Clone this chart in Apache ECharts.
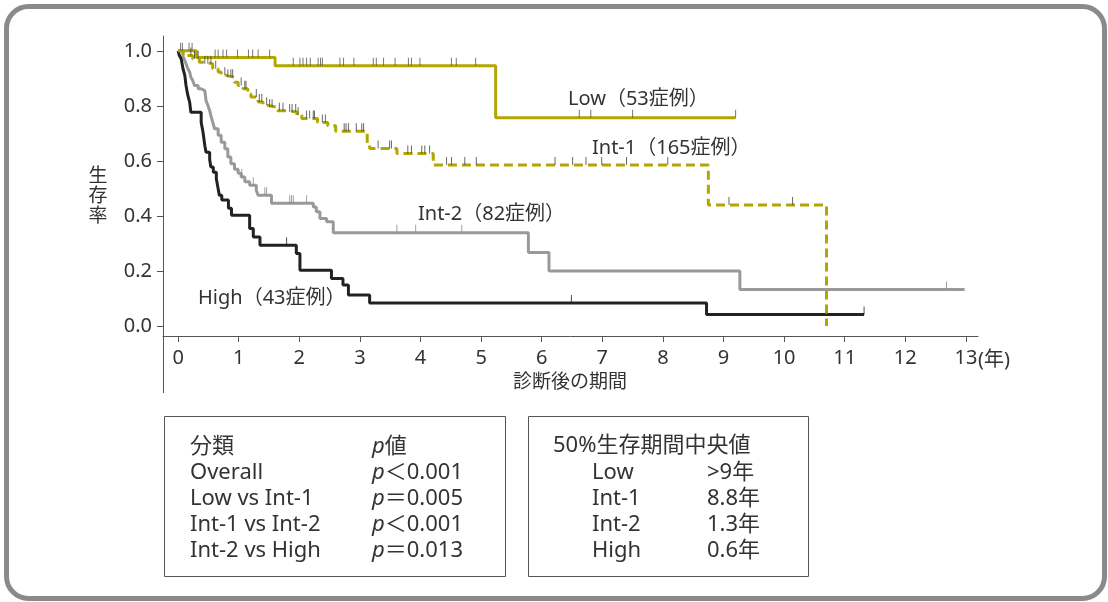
<!DOCTYPE html>
<html>
<head>
<meta charset="utf-8">
<script src="https://cdn.jsdelivr.net/npm/echarts@6/dist/echarts.min.js"></script>
<style>
html, body { margin: 0; padding: 0; background: #fff; }
#container { width: 1108px; height: 602px; }
</style>
</head>
<body>
<div id="container"></div>
<script>
var FONT = '"Noto Sans", "Noto Sans CJK JP", sans-serif';
var OLIVE = '#b2a600';

// Kaplan-Meier steps: [years, survival after the step]
var lowSteps = [[0, 1.0], [0.30, 0.976], [1.60, 0.946], [5.24, 0.757], [9.20, 0.757]];
var lowCensor = [0.04, 0.07, 0.18, 0.23, 0.61, 0.66, 0.74, 0.80, 0.98, 1.16, 1.23, 1.32, 1.51,
    1.90, 2.01, 2.06, 2.12, 2.18, 2.31, 2.35, 2.38, 2.67, 2.73, 2.90, 3.22, 3.27, 3.39, 3.58,
    3.80, 3.85, 3.99, 4.51, 4.59, 4.91, 6.62, 6.81, 7.50, 9.20];

var int1Steps = [[0, 1.0], [0.08, 0.983], [0.24, 0.971], [0.35, 0.959], [0.41, 0.953], [0.57, 0.935],
    [0.66, 0.923], [0.71, 0.911], [0.79, 0.904], [0.93, 0.886], [0.99, 0.874], [1.07, 0.862],
    [1.15, 0.844], [1.20, 0.832], [1.32, 0.814], [1.40, 0.802], [1.48, 0.795], [1.64, 0.782],
    [1.79, 0.778], [1.96, 0.766], [2.04, 0.754], [2.30, 0.740], [2.47, 0.728], [2.60, 0.708],
    [3.12, 0.665], [3.16, 0.645], [3.61, 0.627], [4.21, 0.585], [8.75, 0.440], [10.70, 0.0]];
var int1Censor = [0.21, 0.27, 0.33, 0.44, 0.49, 0.54, 0.62, 0.77, 0.82, 0.87, 0.90, 1.04, 1.10, 1.12,
    1.29, 1.34, 1.38, 1.46, 1.51, 1.55, 1.67, 1.73, 1.84, 1.88, 1.94, 1.98, 2.12, 2.17, 2.23, 2.25,
    2.38, 2.43, 2.74, 2.77, 2.81, 2.94, 3.03, 3.06, 3.30, 3.49, 3.52, 3.79, 3.85, 4.02, 4.07, 4.15,
    4.43, 4.51, 4.73, 4.92, 6.22, 6.51, 6.73, 6.99, 7.40, 8.08, 9.09, 10.14];

var int2Steps = [[0, 1.0], [0.08, 0.98], [0.11, 0.965], [0.13, 0.953], [0.16, 0.935], [0.19, 0.923],
    [0.21, 0.904], [0.24, 0.892], [0.27, 0.874], [0.33, 0.862], [0.38, 0.856], [0.44, 0.850],
    [0.46, 0.820], [0.49, 0.802], [0.52, 0.783], [0.54, 0.765], [0.57, 0.741], [0.60, 0.717],
    [0.66, 0.693], [0.71, 0.668], [0.77, 0.644], [0.82, 0.614], [0.87, 0.590], [0.93, 0.570],
    [0.99, 0.555], [1.04, 0.542], [1.10, 0.524], [1.18, 0.512], [1.29, 0.493], [1.32, 0.475],
    [1.54, 0.446], [2.23, 0.433], [2.28, 0.415], [2.34, 0.391], [2.45, 0.379], [2.56, 0.339],
    [5.78, 0.267], [6.12, 0.200], [9.27, 0.133], [12.98, 0.133]];
var int2Censor = [1.05, 1.24, 1.43, 1.46, 1.84, 1.87, 1.90, 2.12, 3.61, 3.92, 4.68, 12.68];

var highSteps = [[0, 1.0], [0.02, 0.983], [0.05, 0.971], [0.08, 0.935], [0.11, 0.911], [0.13, 0.874],
    [0.16, 0.838], [0.19, 0.814], [0.21, 0.777], [0.38, 0.741], [0.41, 0.705], [0.44, 0.656],
    [0.46, 0.632], [0.52, 0.605], [0.54, 0.578], [0.58, 0.559], [0.63, 0.535], [0.66, 0.499],
    [0.68, 0.475], [0.72, 0.458], [0.83, 0.428], [0.88, 0.403], [1.18, 0.355], [1.24, 0.324],
    [1.35, 0.294], [1.95, 0.264], [2.01, 0.203], [2.53, 0.173], [2.72, 0.149], [2.81, 0.113],
    [3.16, 0.084], [8.72, 0.042], [11.32, 0.042]];
var highCensor = [1.79, 6.49, 11.32];

var xTicks = [0, 1, 2, 3, 4, 5, 6, 7, 8, 9, 10, 11, 12, 13];
var yTicks = [0, 0.2, 0.4, 0.6, 0.8, 1.0];

var pHeader = ['分類', '{it|p}値'];
var pGroups = ['Overall', 'Low vs Int-1', 'Int-1 vs Int-2', 'Int-2 vs High'];
var pValues = ['{it|p}＜0.001', '{it|p}＝0.005', '{it|p}＜0.001', '{it|p}＝0.013'];

var medianHeader = '50%生存期間中央値';
var medianGroups = ['Low', 'Int-1', 'Int-2', 'High'];
var medianValues = ['>9年', '8.8年', '1.3年', '0.6年'];

function levelAt(steps, t) {
    var s = steps[0][1];
    for (var i = 0; i < steps.length; i++) {
        if (steps[i][0] <= t) s = steps[i][1];
    }
    return s;
}

function curve(name, steps, color, type) {
    return {
        name: name, type: 'line', step: 'end', data: steps,
        symbol: 'none', silent: true, z: 3,
        lineStyle: { color: color, width: 3, type: type || 'solid' }
    };
}

function ticks(name, steps, censor, color) {
    return {
        name: name + '-c', type: 'scatter', silent: true, z: 4,
        data: censor.map(function (t) { return [t, levelAt(steps, t)]; }),
        symbol: 'rect', symbolSize: [1, 8], symbolOffset: [0, -4],
        itemStyle: { color: color }
    };
}

function txt(x, y, text, extra) {
    var style = {
        x: x, y: y, text: text, fill: '#333', fontSize: 22, fontFamily: FONT,
        verticalAlign: 'middle', align: 'left',
        rich: { it: { fontStyle: 'italic', fontSize: 22, fontFamily: FONT, fill: '#333' } }
    };
    for (var k in extra) style[k] = extra[k];
    return { type: 'text', style: style };
}

var graphics = [
    { type: 'rect', shape: { x: 6.5, y: 6.5, width: 1098, height: 592, r: 22 },
      style: { fill: 'none', stroke: '#8a8a8a', lineWidth: 5 } },
    { type: 'line', shape: { x1: 163.5, y1: 336, x2: 163.5, y2: 393 },
      style: { stroke: '#555', lineWidth: 1 } },
    txt(98, 197, '生\n存\n率', { fontSize: 19, lineHeight: 20, align: 'center' }),
    txt(570, 383, '診断後の期間', { fontSize: 19, align: 'center' }),
    txt(978, 360, '(年)', { fontSize: 20 }),
    txt(568, 99, 'Low（53症例）', { fontSize: 20 }),
    txt(592, 148, 'Int-1（165症例）', { fontSize: 20 }),
    txt(418, 214, 'Int-2（82症例）', { fontSize: 20 }),
    txt(198, 298, 'High（43症例）', { fontSize: 20 }),
    { type: 'rect', shape: { x: 164.5, y: 416.5, width: 341, height: 160 },
      style: { fill: 'none', stroke: '#555', lineWidth: 1 } },
    { type: 'rect', shape: { x: 528.5, y: 416.5, width: 280, height: 160 },
      style: { fill: 'none', stroke: '#555', lineWidth: 1 } },
    txt(190, 447, pHeader[0]),
    txt(372, 447, pHeader[1]),
    txt(553, 446, medianHeader)
];
pGroups.forEach(function (g, i) {
    graphics.push(txt(190, 473 + i * 26, g));
    graphics.push(txt(372, 473 + i * 26, pValues[i]));
});
medianGroups.forEach(function (g, i) {
    graphics.push(txt(592, 473 + i * 26, g));
    graphics.push(txt(707, 473 + i * 26, medianValues[i]));
});

var dom = document.getElementById('container');
var myChart = echarts.init(dom);

var option = {
    animation: false,
    backgroundColor: '#fff',
    grid: { left: 163, top: 36, width: 815, height: 300 },
    xAxis: {
        type: 'value', min: -0.25, max: 13.2,
        axisLine: { show: true, onZero: false, lineStyle: { color: '#555', width: 1 } },
        axisTick: { show: true, customValues: xTicks, length: 6, lineStyle: { color: '#555' } },
        axisLabel: { customValues: xTicks, fontSize: 20, color: '#333', margin: 12, fontFamily: FONT },
        splitLine: { show: false }
    },
    yAxis: {
        type: 'value', min: -0.036, max: 1.054,
        axisLine: { show: true, onZero: false, lineStyle: { color: '#555', width: 1 } },
        axisTick: { show: true, customValues: yTicks, length: 6, lineStyle: { color: '#555' } },
        axisLabel: {
            customValues: yTicks, fontSize: 20, color: '#333', margin: 11, fontFamily: FONT,
            formatter: function (v) { return v.toFixed(1); }
        },
        splitLine: { show: false }
    },
    series: [
        curve('Int-2', int2Steps, '#999'),
        ticks('Int-2', int2Steps, int2Censor, '#888'),
        curve('High', highSteps, '#222'),
        ticks('High', highSteps, highCensor, '#222'),
        curve('Int-1', int1Steps, OLIVE, [9, 5]),
        ticks('Int-1', int1Steps, int1Censor, '#444'),
        curve('Low', lowSteps, OLIVE),
        ticks('Low', lowSteps, lowCensor, '#555')
    ],
    graphic: graphics
};

myChart.setOption(option);
</script>
</body>
</html>
